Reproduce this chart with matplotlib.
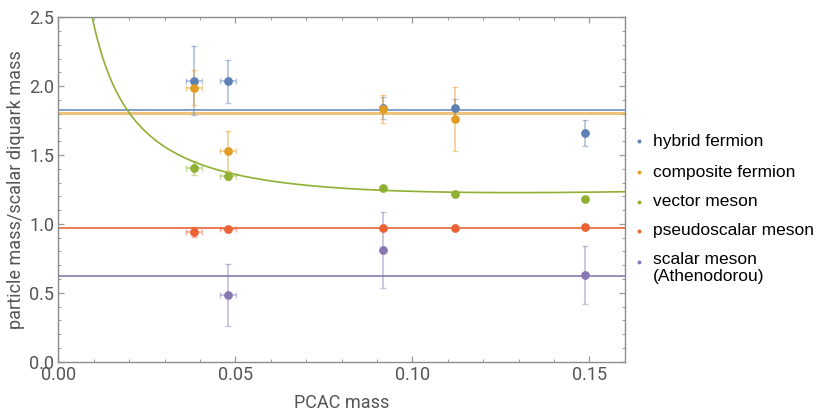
import matplotlib
matplotlib.use("Agg")
import matplotlib.pyplot as plt
import numpy as np
from matplotlib.lines import Line2D
from matplotlib.ticker import MultipleLocator

# ---- data ----
pcac = [0.0383, 0.0479, 0.0917, 0.112, 0.1487]
pcac_err = [0.0023, 0.0023, 0.0, 0.0, 0.0]

hybrid = [2.04, 2.035, 1.84, 1.84, 1.662]
hybrid_err = [0.25, 0.155, 0.08, 0.07, 0.095]

comp_x = [0.0383, 0.0479, 0.0917, 0.112]
comp_xerr = [0.0023, 0.0023, 0.0, 0.0]
composite = [1.99, 1.53, 1.835, 1.763]
composite_err = [0.125, 0.145, 0.1, 0.23]

vector = [1.405, 1.35, 1.263, 1.219, 1.18]
vector_err = [0.05, 0.03, 0.01, 0.01, 0.01]

pseudo = [0.943, 0.96, 0.972, 0.972, 0.977]
pseudo_err = [0.035, 0.015, 0.01, 0.01, 0.01]

scal_x = [0.0479, 0.0917, 0.1487]
scal_xerr = [0.0023, 0.0, 0.0]
scalar = [0.484, 0.813, 0.627]
scalar_err = [0.225, 0.276, 0.21]

# constant fit levels
hybrid_level = 1.826
composite_level = 1.807
pseudo_level = 0.97
scalar_level = 0.622
# vector fit: a + b/(x + x0) + c*x
vec_a, vec_b, vec_c, vec_x0 = 0.9342, 0.019574, 1.1232, 0.003

labels = ["hybrid fermion", "composite fermion", "vector meson",
          "pseudoscalar meson", "scalar meson\n(Athenodorou)"]

C_BLUE = "#5E81B5"
C_ORANGE = "#E19C24"
C_GREEN = "#8FB032"
C_RED = "#EB6235"
C_PURPLE = "#8778B3"
colors = [C_BLUE, C_ORANGE, C_GREEN, C_RED, C_PURPLE]

fig = plt.figure(figsize=(8.23, 4.11), dpi=100)
ax = fig.add_axes([58.3 / 823, 1 - 361.7 / 411, (624.7 - 58.3) / 823, (361.7 - 17.3) / 411])

# fit lines
ax.axhline(hybrid_level, color=C_BLUE, lw=1.2, alpha=0.9, zorder=2)
ax.axhline(composite_level, color=C_ORANGE, lw=2.2, alpha=0.6, zorder=2)
ax.axhline(pseudo_level, color=C_RED, lw=1.4, alpha=0.85, zorder=2)
ax.axhline(scalar_level, color=C_PURPLE, lw=1.4, alpha=0.85, zorder=2)
xf = np.linspace(0.001, 0.16, 600)
ax.plot(xf, vec_a + vec_b / (xf + vec_x0) + vec_c * xf, color=C_GREEN, lw=1.2, zorder=2)

def series(x, y, xerr, yerr, col):
    ax.errorbar(x, y, xerr=xerr, yerr=yerr, fmt="none", ecolor=col, alpha=0.45,
                elinewidth=1.3, capsize=2.5, capthick=1.0, zorder=3)
    ax.plot(x, y, "o", color=col, ms=6.3, mec="none", zorder=4)

series(pcac, hybrid, pcac_err, hybrid_err, C_BLUE)
series(comp_x, composite, comp_xerr, composite_err, C_ORANGE)
series(pcac, vector, pcac_err, vector_err, C_GREEN)
series(pcac, pseudo, pcac_err, pseudo_err, C_RED)
series(scal_x, scalar, scal_xerr, scalar_err, C_PURPLE)

ax.set_xlim(0, 0.16)
ax.set_ylim(0, 2.5)
ax.xaxis.set_major_locator(MultipleLocator(0.05))
ax.xaxis.set_minor_locator(MultipleLocator(0.01))
ax.yaxis.set_major_locator(MultipleLocator(0.5))
ax.yaxis.set_minor_locator(MultipleLocator(0.1))
ax.set_xticks([0, 0.05, 0.10, 0.15])
ax.set_xticklabels(["0.00", "0.05", "0.10", "0.15"])
ax.set_yticklabels([f"{v:.1f}" for v in ax.get_yticks()])

for s in ax.spines.values():
    s.set_color("#8c8c8c")
    s.set_linewidth(1.0)
ax.tick_params(which="both", direction="in", top=True, right=True, color="#9a9a9a",
               labelcolor="#555555", labelsize=13)
ax.tick_params(which="major", length=4.5, width=0.9)
ax.tick_params(which="minor", length=2.5, width=0.7)
for t in ax.get_xticklabels() + ax.get_yticklabels():
    t.set_family("Roboto")
ax.tick_params(axis="x", pad=3)
ax.tick_params(axis="y", pad=3)

ax.set_xlabel("PCAC mass", fontsize=13, color="#555555", family="Roboto", labelpad=7)
ax.set_ylabel("particle mass/scalar diquark mass", fontsize=13, color="#555555",
              family="Roboto", labelpad=3)

# legend (manual)
ys = [141.5, 172.5, 201.7, 230.5, 261.7]
for lab, col, yy in zip(labels, colors, ys):
    fig.add_artist(Line2D([639 / 823], [1 - yy / 411], marker="o", color=col, ms=2.8,
                          mec="none", ls="none", transform=fig.transFigure))
    fig.text(653 / 823, 1 - yy / 411, lab, fontsize=12.5, family="Liberation Sans",
             color="black", va="top" if "\n" in lab else "center", ha="left",
             linespacing=1.15)

# two-line label: first line centred on its marker
for t in fig.texts:
    if "\n" in t.get_text():
        t.set_y(1 - (261.7 - 9.5) / 411)

fig.savefig("out.png", dpi=100)
